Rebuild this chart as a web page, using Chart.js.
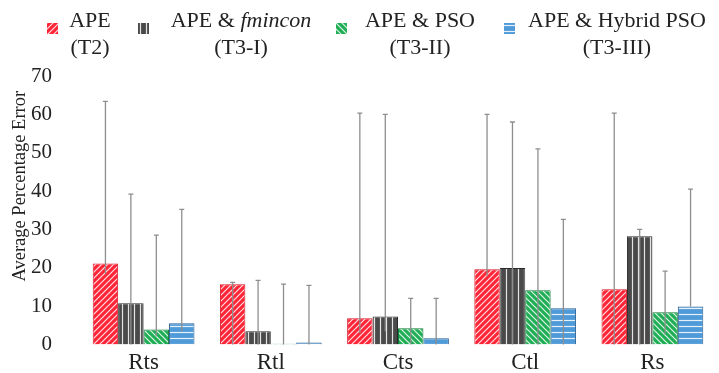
<!DOCTYPE html>
<html>
<head>
<meta charset="utf-8">
<script src="https://cdn.jsdelivr.net/npm/chart.js@4.4.0/dist/chart.umd.min.js"></script>
<style>
    html, body { margin: 0; padding: 0; background: #fff; overflow: hidden; }
    #wrap { position: relative; width: 719px; height: 373px; overflow: hidden; }
    #errChart { display: block; }
    #legend { position: absolute; top: 6px; left: 0; width: 719px; height: 60px;
              font-family: "Liberation Serif", "Times New Roman", serif; font-size: 22px; color: #222; }
    .item { position: absolute; top: 0; text-align: center; line-height: 27px; white-space: nowrap; }
    .swatch { position: absolute; top: 8px; width: 11px; height: 11px; }
</style>
</head>
<body>
<div id="wrap">
    <canvas id="errChart" width="719" height="377"></canvas>
    <div id="legend"></div>
</div>
<script>
// Categories and series
const categories = ['Rts', 'Rtl', 'Cts', 'Ctl', 'Rs'];
const yTicks = [0, 10, 20, 30, 40, 50, 60, 70];

const apeT2 = [21.1, 15.7, 6.8, 19.6, 14.4];
const apeFmincon = [10.7, 3.4, 7.3, 19.9, 28.2];
const apePso = [3.9, 0.2, 4.2, 14.1, 8.4];
const apeHybrid = [5.5, 0.5, 1.6, 9.4, 9.9];

// Error bar extents (upper / lower)
const apeT2Hi = [63.4, 16.2, 60.3, 60.0, 60.3];
const apeT2Lo = [18.3, 0, 2.9, 17.8, 0];
const apeFminconHi = [39.2, 16.7, 60.0, 58.0, 30.0];
const apeFminconLo = [0, 0, 3.4, 0, 0];
const apePsoHi = [28.5, 15.7, 12.0, 51.0, 19.1];
const apePsoLo = [2.1, 0, 0, 0, 2.6];
const apeHybridHi = [35.2, 15.4, 12.0, 32.6, 40.5];
const apeHybridLo = [3.4, 0, 0, 0, 9.9];

const yTitle = 'Average Percentage Error';

// Hatch pattern helper
function makePattern(bg, kind) {
    const c = document.createElement('canvas');
    c.width = 6; c.height = 6;
    const g = c.getContext('2d');
    g.fillStyle = bg;
    g.fillRect(0, 0, 6, 6);
    g.strokeStyle = 'rgba(255,255,255,0.85)';
    g.lineWidth = 1.2;
    g.beginPath();
    if (kind === 'up') {
        g.moveTo(0, 6); g.lineTo(6, 0);
        g.moveTo(-3, 3); g.lineTo(3, -3);
        g.moveTo(3, 9); g.lineTo(9, 3);
    } else if (kind === 'down') {
        g.moveTo(0, 0); g.lineTo(6, 6);
        g.moveTo(-3, 3); g.lineTo(3, 9);
        g.moveTo(3, -3); g.lineTo(9, 3);
    } else if (kind === 'vert') {
        g.moveTo(2.5, 0); g.lineTo(2.5, 6);
    } else {
        g.moveTo(0, 2.5); g.lineTo(6, 2.5);
    }
    g.stroke();
    return g.createPattern(c, 'repeat');
}

const series = [
    { label: 'APE (T2)', data: apeT2, hi: apeT2Hi, lo: apeT2Lo, bg: '#ff2436', kind: 'up', border: '#d81a2a' },
    { label: 'APE & fmincon (T3-I)', data: apeFmincon, hi: apeFminconHi, lo: apeFminconLo, bg: '#4a4a4a', kind: 'vert', border: '#2a2a2a' },
    { label: 'APE & PSO (T3-II)', data: apePso, hi: apePsoHi, lo: apePsoLo, bg: '#1fae55', kind: 'down', border: '#137a3a' },
    { label: 'APE & Hybrid PSO (T3-III)', data: apeHybrid, hi: apeHybridHi, lo: apeHybridLo, bg: '#4f9ad8', kind: 'horiz', border: '#2a5f95' }
];

// HTML legend (two-line labels, italic solver name)
const legendItems = [
    { x: 47, left: 66, w: 48, top: 'APE', bottom: '(T2)' },
    { x: 138, left: 160, w: 162, top: 'APE &amp; <i>fmincon</i>', bottom: '(T3-I)' },
    { x: 336, left: 356, w: 128, top: 'APE &amp; PSO', bottom: '(T3-II)' },
    { x: 504, left: 522, w: 190, top: 'APE &amp; Hybrid PSO', bottom: '(T3-III)' }
];
const legendEl = document.getElementById('legend');
legendItems.forEach((it, i) => {
    const sw = document.createElement('div');
    sw.className = 'swatch';
    sw.style.left = it.x + 'px';
    const sc = document.createElement('canvas');
    sc.width = 11; sc.height = 11;
    const sg = sc.getContext('2d');
    sg.fillStyle = makePattern(series[i].bg, series[i].kind);
    sg.fillRect(0, 0, 11, 11);
    sw.appendChild(sc);
    legendEl.appendChild(sw);

    const lab = document.createElement('div');
    lab.className = 'item';
    lab.style.left = it.left + 'px';
    lab.style.width = it.w + 'px';
    lab.innerHTML = it.top + '<br>' + it.bottom;
    legendEl.appendChild(lab);
});

// Error bars drawn over the bars
const errorBars = {
    id: 'errorBars',
    afterDatasetsDraw(chart) {
        const ctx = chart.ctx;
        const y = chart.scales.y;
        ctx.save();
        ctx.strokeStyle = '#8e8e8e';
        ctx.lineWidth = 1.3;
        chart.data.datasets.forEach((ds, di) => {
            const meta = chart.getDatasetMeta(di);
            meta.data.forEach((bar, i) => {
                const top = y.getPixelForValue(ds.hi[i]);
                const bot = y.getPixelForValue(ds.lo[i]);
                ctx.beginPath();
                ctx.moveTo(bar.x, bot);
                ctx.lineTo(bar.x, top);
                ctx.moveTo(bar.x - 2.5, top);
                ctx.lineTo(bar.x + 2.5, top);
                ctx.stroke();
            });
        });
        ctx.restore();
    }
};

// Rotated y-axis title, sitting a little above the plot's middle
const axisTitle = {
    id: 'axisTitle',
    afterDraw(chart) {
        const ctx = chart.ctx;
        const mid = (chart.chartArea.top + chart.chartArea.bottom) / 2 - 24;
        ctx.save();
        ctx.translate(20, mid);
        ctx.rotate(-Math.PI / 2);
        ctx.font = '18.5px "Liberation Serif", serif';
        ctx.fillStyle = '#222';
        ctx.textAlign = 'center';
        ctx.textBaseline = 'middle';
        ctx.fillText(yTitle, 0, 0);
        ctx.restore();
    }
};

const ctx = document.getElementById('errChart').getContext('2d');
new Chart(ctx, {
    type: 'bar',
    data: {
        labels: categories,
        datasets: series.map(s => ({
            label: s.label,
            data: s.data,
            hi: s.hi,
            lo: s.lo,
            backgroundColor: makePattern(s.bg, s.kind),
            borderColor: s.border,
            borderWidth: 1,
            categoryPercentage: 0.80,
            barPercentage: 1.0
        }))
    },
    plugins: [errorBars, axisTitle],
    options: {
        responsive: false,
        animation: false,
        layout: { padding: { top: 76, right: 3, left: 0, bottom: 0 } },
        plugins: {
            legend: { display: false },
            tooltip: { enabled: false }
        },
        scales: {
            x: {
                grid: { display: false },
                border: { display: false },
                ticks: {
                    color: '#222',
                    padding: -3,
                    font: { family: '"Liberation Serif", serif', size: 23 }
                },
                afterFit(scale) { scale.height = 30; }
            },
            y: {
                min: 0,
                max: 70,
                afterBuildTicks(scale) { scale.ticks = yTicks.map(v => ({ value: v })); },
                grid: { display: false },
                border: { display: false },
                ticks: {
                    color: '#222',
                    padding: 20,
                    font: { family: '"Liberation Serif", serif', size: 21 }
                },
                afterFit(scale) { scale.width = 80; }
            }
        }
    }
});
</script>
</body>
</html>
